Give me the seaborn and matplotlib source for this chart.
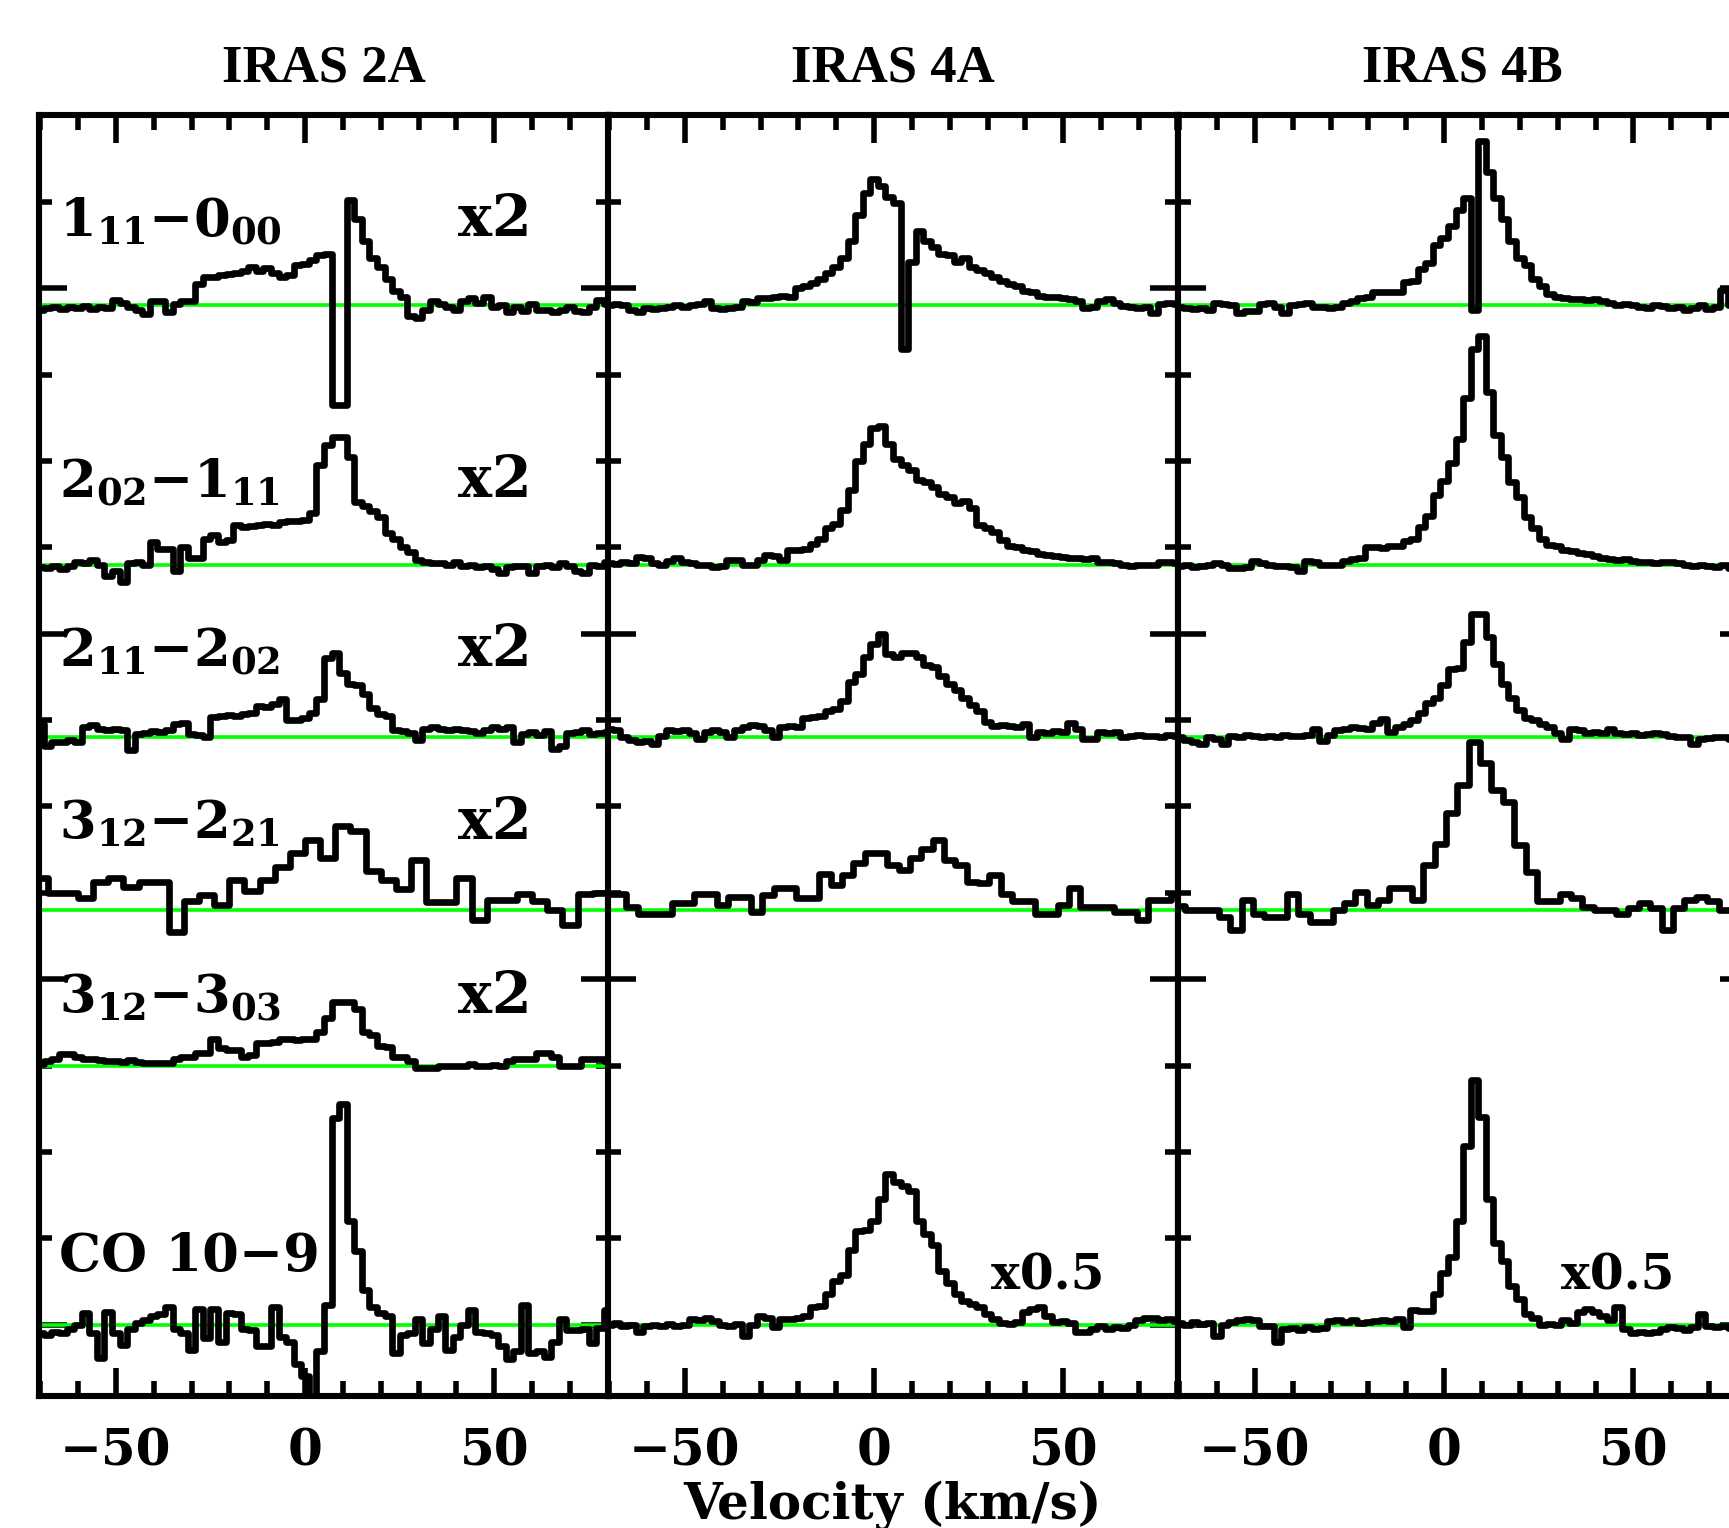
import numpy as np
import pandas as pd
import matplotlib
matplotlib.use("Agg")
import matplotlib.pyplot as plt
import seaborn as sns
from matplotlib.ticker import MultipleLocator

# ---------------------------------------------------------------- data
SOURCES = ["IRAS 2A", "IRAS 4A", "IRAS 4B"]
TRANSITIONS = ["1_{11}{-}0_{00}", "2_{02}{-}1_{11}", "2_{11}{-}2_{02}",
               "3_{12}{-}2_{21}", "3_{12}{-}3_{03}", "CO 10\u22129"]
BASELINES = [11.8, 8.8, 6.8, 4.8, 3.0, 0.0]
SCALE_2A = ["x2", "x2", "x2", "x2", "x2", ""]
SCALE_4A = ["", "", "", "", "", "x0.5"]
SCALE_4B = ["", "", "", "", "", "x0.5"]
XTICKS = [-50, 0, 50]
V_START = -70.0   # velocity of first channel (km/s)

# --- IRAS 2A (2 km/s channels unless noted)
IRAS2A_111_000 = [-0.05, -0.03, -0.02, -0.04, -0.02, -0.03, -0.01, -0.04, -0.02, -0.03,
                  0.06, 0.03, -0.02, -0.05, -0.10, 0.05, 0.05, -0.08, 0.02, 0.05,
                  0.05, 0.25, 0.33, 0.33, 0.35, 0.36, 0.38, 0.40, 0.44, 0.40,
                  0.43, 0.38, 0.33, 0.35, 0.47, 0.48, 0.52, 0.58, 0.60, -1.15,
                  -1.15, 1.22, 1.00, 0.75, 0.55, 0.45, 0.30, 0.17, 0.10, -0.12,
                  -0.15, -0.05, 0.05, 0.02, -0.02, -0.05, 0.05, 0.08, 0.03, 0.10,
                  -0.02, 0.00, -0.08, -0.02, -0.06, 0.02, -0.05, -0.05, -0.08, -0.05,
                  -0.02, -0.07, -0.08, -0.02, 0.06, 0.02]
IRAS2A_202_111 = [-0.03, -0.04, -0.02, -0.05, -0.02, 0.03, 0.02, 0.05, 0.00, -0.13,
                  -0.08, -0.20, 0.02, 0.03, 0.00, 0.26, 0.18, 0.18, -0.08, 0.20,
                  0.08, 0.08, 0.30, 0.34, 0.26, 0.28, 0.46, 0.44, 0.45, 0.46,
                  0.47, 0.46, 0.49, 0.50, 0.50, 0.52, 0.60, 1.15, 1.38, 1.48,
                  1.48, 1.25, 0.72, 0.68, 0.62, 0.55, 0.36, 0.30, 0.20, 0.15,
                  0.05, 0.03, 0.02, 0.02, 0.00, 0.03, -0.02, 0.00, -0.03, -0.02,
                  -0.05, -0.10, -0.03, -0.02, -0.02, -0.10, -0.02, 0.00, -0.03, 0.02,
                  -0.02, -0.08, -0.10, 0.00, -0.02, 0.03]
IRAS2A_211_202 = [0.15, -0.10, -0.05, -0.06, -0.03, -0.05, 0.12, 0.14, 0.10, 0.08,
                  0.10, 0.08, -0.15, 0.04, 0.05, 0.07, 0.06, 0.08, 0.15, 0.17,
                  0.04, 0.03, 0.00, 0.23, 0.25, 0.26, 0.25, 0.27, 0.28, 0.36,
                  0.35, 0.38, 0.44, 0.20, 0.20, 0.22, 0.28, 0.44, 0.92, 0.98,
                  0.75, 0.62, 0.60, 0.50, 0.34, 0.27, 0.25, 0.08, 0.07, 0.05,
                  -0.03, 0.10, 0.12, 0.10, 0.08, 0.10, 0.09, 0.07, 0.05, 0.08,
                  0.12, 0.10, 0.12, -0.05, 0.04, 0.06, 0.03, 0.07, -0.13, -0.10,
                  0.05, 0.06, 0.08, 0.04, 0.05, 0.06]
IRAS2A_312_221 = [0.37, 0.20, 0.20, 0.14, 0.32, 0.37, 0.27, 0.32, 0.32, -0.25,   # 4 km/s
                  0.11, 0.17, 0.06, 0.35, 0.22, 0.35, 0.50, 0.66, 0.81, 0.60,
                  0.97, 0.92, 0.45, 0.35, 0.24, 0.58, 0.09, 0.09, 0.37, -0.12,
                  0.12, 0.12, 0.19, 0.10, 0.00, -0.17, 0.19, 0.20, 0.05]
IRAS2A_312_303 = [0.02, 0.05, 0.08, 0.13, 0.13, 0.10, 0.08, 0.08, 0.06, 0.05,
                  0.05, 0.04, 0.06, 0.04, 0.03, 0.03, 0.03, 0.03, 0.08, 0.10,
                  0.10, 0.14, 0.15, 0.31, 0.20, 0.18, 0.18, 0.10, 0.12, 0.26,
                  0.26, 0.27, 0.31, 0.31, 0.30, 0.31, 0.31, 0.39, 0.55, 0.73,
                  0.73, 0.73, 0.65, 0.39, 0.35, 0.23, 0.22, 0.10, 0.10, 0.05,
                  -0.03, -0.03, -0.03, 0.00, 0.00, 0.00, 0.00, 0.02, -0.01, 0.00,
                  0.01, 0.00, 0.05, 0.07, 0.08, 0.08, 0.15, 0.15, 0.10, 0.00,
                  0.00, 0.00, 0.07, 0.08, 0.08, 0.05]
IRAS2A_CO = [-0.10, -0.12, -0.08, -0.10, -0.05, 0.00, 0.13, -0.10, -0.39, 0.15,
             -0.10, -0.23, -0.05, 0.02, 0.05, 0.10, 0.12, 0.21, -0.05, -0.10,
             -0.29, 0.18, -0.15, 0.18, -0.20, 0.13, 0.12, -0.05, -0.06, -0.25,
             -0.25, 0.21, -0.14, -0.20, -0.46, -0.60, -0.85, -0.31, 0.23, 2.39,
             2.55, 1.20, 0.85, 0.40, 0.21, 0.13, 0.10, -0.33, -0.12, -0.10,
             0.06, -0.21, -0.05, 0.10, -0.29, -0.14, 0.00, 0.17, -0.08, -0.10,
             -0.12, -0.25, -0.40, -0.30, 0.23, -0.33, -0.30, -0.38, -0.20, 0.06,
             -0.06, -0.06, -0.05, -0.21, -0.04, 0.17]

# --- IRAS 4A
IRAS4A_111_000 = [0.00, 0.02, 0.01, -0.05, -0.08, -0.03, -0.04, -0.03, -0.02, 0.00,
                  -0.02, 0.00, 0.02, 0.05, -0.03, -0.04, -0.03, -0.02, 0.05, 0.04,
                  0.08, 0.09, 0.10, 0.11, 0.10, 0.20, 0.22, 0.26, 0.30, 0.37,
                  0.45, 0.55, 0.75, 1.05, 1.30, 1.46, 1.38, 1.25, 1.18, -0.50,
                  0.50, 0.86, 0.75, 0.68, 0.60, 0.58, 0.50, 0.55, 0.45, 0.41,
                  0.37, 0.33, 0.28, 0.25, 0.22, 0.17, 0.15, 0.11, 0.10, 0.10,
                  0.08, 0.07, 0.05, -0.03, -0.02, 0.05, 0.07, 0.03, -0.01, -0.02,
                  -0.03, -0.02, -0.09, 0.02, 0.03, 0.02]
IRAS4A_202_111 = [0.02, 0.01, 0.03, 0.02, 0.09, 0.08, 0.02, -0.01, 0.04, 0.07,
                  0.03, 0.02, -0.01, 0.00, -0.03, -0.02, 0.05, 0.05, -0.01, -0.01,
                  0.05, 0.11, 0.10, 0.05, 0.17, 0.17, 0.18, 0.24, 0.30, 0.42,
                  0.47, 0.63, 0.86, 1.20, 1.40, 1.58, 1.60, 1.40, 1.22, 1.15,
                  1.09, 0.98, 0.95, 0.90, 0.82, 0.78, 0.71, 0.74, 0.65, 0.46,
                  0.42, 0.38, 0.28, 0.22, 0.20, 0.17, 0.16, 0.12, 0.11, 0.10,
                  0.09, 0.08, 0.08, 0.06, 0.08, 0.03, 0.03, 0.02, -0.01, -0.02,
                  -0.01, -0.01, 0.00, 0.03, 0.03, 0.02]
IRAS4A_211_202 = [0.10, 0.08, 0.00, -0.03, -0.05, -0.04, -0.08, 0.02, 0.09, 0.07,
                  0.09, 0.05, -0.02, 0.06, 0.08, 0.06, 0.00, 0.08, 0.12, 0.14,
                  0.13, 0.08, 0.00, 0.12, 0.13, 0.12, 0.22, 0.24, 0.25, 0.30,
                  0.33, 0.42, 0.64, 0.73, 0.93, 1.08, 1.20, 0.97, 0.93, 0.98,
                  0.98, 0.93, 0.84, 0.81, 0.71, 0.62, 0.55, 0.45, 0.37, 0.30,
                  0.18, 0.13, 0.14, 0.13, 0.12, 0.15, 0.00, 0.06, 0.05, 0.07,
                  0.06, 0.17, 0.10, -0.02, -0.02, 0.06, 0.05, 0.06, 0.00, 0.02,
                  0.03, 0.01, 0.02, 0.00, 0.03, 0.02]
IRAS4A_312_221 = [0.19, 0.19, 0.04, -0.04, -0.04, -0.04, 0.08, 0.08, 0.19, 0.19,   # 3 km/s
                  0.06, 0.15, 0.15, -0.02, 0.17, 0.25, 0.25, 0.14, 0.14, 0.42,
                  0.29, 0.41, 0.54, 0.66, 0.66, 0.52, 0.46, 0.60, 0.71, 0.81,
                  0.58, 0.52, 0.33, 0.31, 0.41, 0.19, 0.10, 0.10, -0.04, -0.04,
                  0.06, 0.25, 0.04, 0.04, 0.04, -0.02, -0.02, -0.12, 0.12, 0.12,
                  0.19]
IRAS4A_CO = [0.00, 0.02, -0.02, 0.00, -0.09, -0.02, 0.00, -0.01, 0.01, -0.02,
             0.00, 0.06, 0.05, 0.08, 0.04, 0.00, -0.01, 0.01, -0.13, 0.00,
             0.10, 0.08, -0.03, 0.06, 0.07, 0.08, 0.10, 0.20, 0.22, 0.36,
             0.50, 0.58, 0.86, 1.09, 1.10, 1.20, 1.45, 1.75, 1.65, 1.60,
             1.55, 1.20, 1.05, 0.92, 0.62, 0.48, 0.35, 0.27, 0.24, 0.20,
             0.12, 0.06, 0.02, 0.01, 0.03, 0.15, 0.18, 0.20, 0.10, 0.03,
             0.04, 0.02, -0.09, -0.08, -0.05, -0.02, -0.05, -0.03, -0.04, 0.00,
             0.05, 0.08, 0.08, 0.05, 0.06, 0.04]

# --- IRAS 4B
IRAS4B_111_000 = [-0.02, -0.03, -0.04, -0.03, -0.05, 0.03, 0.02, 0.00, -0.09, -0.07,
                  -0.06, 0.02, 0.03, -0.02, -0.09, 0.00, 0.02, 0.03, -0.02, -0.02,
                  -0.03, -0.02, 0.03, 0.05, 0.09, 0.10, 0.15, 0.15, 0.15, 0.16,
                  0.27, 0.28, 0.42, 0.49, 0.70, 0.78, 0.92, 1.10, 1.24, -0.05,
                  1.90, 1.55, 1.24, 1.00, 0.75, 0.55, 0.47, 0.30, 0.22, 0.13,
                  0.10, 0.08, 0.07, 0.07, 0.06, 0.07, 0.05, 0.03, 0.00, 0.02,
                  0.00, -0.02, -0.03, 0.00, -0.01, -0.03, -0.02, -0.05, -0.03, 0.00,
                  -0.04, -0.02, 0.18, 0.00, -0.02, -0.03]
IRAS4B_202_111 = [-0.02, -0.01, -0.03, -0.02, -0.01, 0.02, 0.00, -0.04, -0.04, -0.03,
                  0.04, 0.02, 0.00, -0.02, -0.02, -0.03, -0.08, 0.04, 0.03, -0.01,
                  -0.01, 0.00, 0.04, 0.06, 0.08, 0.20, 0.20, 0.19, 0.21, 0.22,
                  0.27, 0.30, 0.44, 0.56, 0.80, 0.97, 1.18, 1.45, 1.93, 2.50,
                  2.64, 2.00, 1.50, 1.25, 0.95, 0.78, 0.55, 0.42, 0.30, 0.23,
                  0.22, 0.17, 0.16, 0.13, 0.12, 0.10, 0.07, 0.06, 0.05, 0.06,
                  0.04, 0.03, 0.03, 0.02, 0.03, 0.03, 0.02, 0.00, -0.02, -0.01,
                  -0.02, -0.03, -0.01, -0.04, -0.05, -0.03]
IRAS4B_211_202 = [0.00, -0.03, -0.05, -0.08, 0.00, -0.02, -0.08, 0.02, 0.00, 0.03,
                  0.02, 0.00, 0.02, 0.00, 0.03, 0.01, 0.02, 0.03, 0.10, -0.04,
                  0.03, 0.08, 0.10, 0.12, 0.11, 0.10, 0.17, 0.21, 0.06, 0.12,
                  0.15, 0.20, 0.28, 0.40, 0.45, 0.60, 0.79, 0.80, 1.10, 1.43,
                  1.43, 1.16, 0.85, 0.62, 0.46, 0.32, 0.22, 0.20, 0.15, 0.12,
                  0.05, -0.02, 0.10, 0.09, 0.05, 0.06, 0.05, 0.10, 0.05, 0.04,
                  0.05, 0.03, 0.04, 0.05, 0.04, 0.02, 0.00, 0.00, -0.08, -0.02,
                  -0.01, 0.00, 0.00, -0.02, -0.01, -0.02]
IRAS4B_312_221 = [0.05, 0.00, 0.00, 0.00, -0.08, -0.23, 0.12, -0.04, -0.08, -0.08,   # 3 km/s
                  0.19, -0.04, -0.14, -0.14, 0.00, 0.08, 0.21, 0.06, 0.12, 0.25,
                  0.25, 0.12, 0.52, 0.77, 1.12, 1.45, 1.95, 1.70, 1.39, 1.25,
                  0.75, 0.44, 0.10, 0.10, 0.19, 0.14, 0.04, 0.00, 0.00, -0.04,
                  0.02, 0.08, 0.02, -0.23, 0.02, 0.12, 0.15, 0.10, 0.00, 0.00,
                  0.00]
IRAS4B_CO = [0.02, 0.00, 0.03, 0.01, 0.02, -0.13, 0.00, 0.03, 0.05, 0.06,
             0.05, -0.01, -0.02, -0.20, -0.05, -0.04, -0.06, -0.03, -0.05, -0.04,
             0.04, 0.05, 0.03, 0.05, 0.02, 0.03, 0.04, 0.05, 0.04, 0.06,
             -0.03, 0.17, 0.16, 0.16, 0.36, 0.60, 0.78, 1.20, 2.07, 2.83,
             2.40, 1.45, 0.95, 0.74, 0.45, 0.30, 0.12, 0.08, 0.00, 0.01,
             0.00, 0.05, 0.02, 0.15, 0.18, 0.15, 0.10, 0.05, 0.20, -0.05,
             -0.10, -0.08, -0.10, -0.09, -0.05, -0.03, -0.04, -0.06, -0.03, 0.12,
             -0.02, -0.03, -0.02, -0.04, -0.03, -0.02]

# (values, channel width in km/s) per row, None where no spectrum exists
SPECTRA = {
    "IRAS 2A": [(IRAS2A_111_000, 2), (IRAS2A_202_111, 2), (IRAS2A_211_202, 2),
                (IRAS2A_312_221, 4), (IRAS2A_312_303, 2), (IRAS2A_CO, 2)],
    "IRAS 4A": [(IRAS4A_111_000, 2), (IRAS4A_202_111, 2), (IRAS4A_211_202, 2),
                (IRAS4A_312_221, 3), None, (IRAS4A_CO, 2)],
    "IRAS 4B": [(IRAS4B_111_000, 2), (IRAS4B_202_111, 2), (IRAS4B_211_202, 2),
                (IRAS4B_312_221, 3), None, (IRAS4B_CO, 2)],
}
SCALES = {"IRAS 2A": SCALE_2A, "IRAS 4A": SCALE_4A, "IRAS 4B": SCALE_4B}

# ---------------------------------------------------------------- style
sns.set_theme(style="ticks")
plt.rcParams.update({
    "font.family": ["DejaVu Serif", "DejaVu Sans"],
    "font.weight": "bold",
    "text.color": "black",
    "axes.labelcolor": "black",
    "axes.linewidth": 4.4,
    "axes.edgecolor": "black",
    "xtick.color": "black",
    "ytick.color": "black",
    "xtick.labelcolor": "black",
    "axes.facecolor": "white",
    "figure.facecolor": "white",
})

W, H = 1729.0, 1528.0
fig = plt.figure(figsize=(W / 100, H / 100), dpi=100)

AX_LEFT = [38.6, 607.6, 1177.7]
AX_W = 570.0
AX_TOP, AX_BOT = 114.5, 1395.5
LABEL_Y = [12.6, 9.58, 7.62, 5.62, 3.61, 0.62]

for i, src in enumerate(SOURCES):
    ax = fig.add_axes([AX_LEFT[i] / W, 1 - AX_BOT / H, AX_W / W, (AX_BOT - AX_TOP) / H])
    ax.set_xlim(-70.4, 80.2)
    ax.set_ylim(-0.82, 14.01)

    for j, spec in enumerate(SPECTRA[src]):
        if spec is None:
            continue
        vals, dv = spec
        v = V_START + dv * np.arange(len(vals))
        df = pd.DataFrame({"v": v, "T": np.asarray(vals) + BASELINES[j]})
        ax.axhline(BASELINES[j], color="#00ff00", lw=2.6, zorder=1)
        sns.lineplot(data=df, x="v", y="T", ax=ax, color="black", linewidth=4.8,
                     drawstyle="steps-mid", estimator=None, sort=False, zorder=3,
                     solid_joinstyle="round", solid_capstyle="round")
        scale = SCALES[src][j]
        if scale:
            if j < 5:
                ax.text(40.4, LABEL_Y[j], scale, fontsize=41, fontweight="bold",
                        ha="left", va="baseline", zorder=5)
            else:
                ax.text(31.0, 0.41, scale, fontsize=35, fontweight="bold",
                        ha="left", va="baseline", zorder=5)
        if i == 0:
            lab = TRANSITIONS[j]
            txt = lab if j == 5 else r"$\mathregular{" + lab + "}$"
            ax.text(-65.0, LABEL_Y[j], txt, fontsize=38, fontweight="bold",
                    ha="left", va="baseline", zorder=5)

    ax.set_xlabel("")
    ax.set_ylabel("")
    ax.xaxis.set_major_locator(MultipleLocator(50))
    ax.xaxis.set_minor_locator(MultipleLocator(10))
    ax.yaxis.set_major_locator(MultipleLocator(4))
    ax.yaxis.set_minor_locator(MultipleLocator(1))
    ax.set_xticks(XTICKS)
    ax.set_xticklabels([f"{t:d}".replace("-", "\u2212") for t in XTICKS])
    ax.tick_params(axis="both", which="both", direction="in", top=True, right=True,
                   left=True, bottom=True, width=4.0, labelleft=False,
                   color="black", labelcolor="black")
    ax.tick_params(axis="x", which="major", length=20, pad=23, labelsize=36)
    ax.tick_params(axis="x", which="minor", length=11)
    ax.tick_params(axis="y", which="major", length=20)
    ax.tick_params(axis="y", which="minor", length=9.5)
    for lbl in ax.get_xticklabels():
        lbl.set_fontweight("bold")
        lbl.set_color("black")
    for sp in ax.spines.values():
        sp.set_visible(True)
        sp.set_linewidth(4.4)
        sp.set_color("black")

    cx = (AX_LEFT[i] + AX_W / 2) / W
    fig.text(cx, 1 - 82 / H, src, ha="center", va="baseline", color="black",
             fontsize=38, fontweight="bold", family=["Liberation Serif", "DejaVu Serif"])

fig.text((AX_LEFT[1] + AX_W / 2) / W, 1 - 1518 / H, "Velocity (km/s)", color="black",
         ha="center", va="baseline", fontsize=36, fontweight="bold")

fig.savefig("out.png", dpi=100)
